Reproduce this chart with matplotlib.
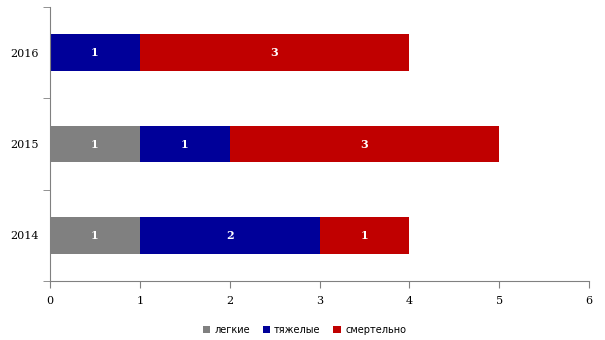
import numpy as np
import matplotlib.pyplot as plt

years = ['2014', '2015', '2016']
light = [1, 1, 0]
severe = [2, 1, 1]
fatal = [1, 3, 3]

series = [('легкие', light, '#808080'),
          ('тяжелые', severe, '#000099'),
          ('смертельно', fatal, '#c00000')]

fig = plt.figure(figsize=(6.05, 3.4), dpi=100)
ax = fig.add_axes([50 / 605, 1 - 281 / 340, 539 / 605, 274 / 340])

y = np.arange(len(years))
left = np.zeros(len(years))
for name, vals, color in series:
    vals = np.array(vals, dtype=float)
    bars = ax.barh(y, vals, left=left, height=0.4, color=color, label=name)
    for b, v in zip(bars, vals):
        if v > 0:
            ax.text(b.get_x() + b.get_width() / 2, b.get_y() + b.get_height() / 2,
                    f'{int(v)}', ha='center', va='center', color='white',
                    fontsize=8, fontweight='bold', family='DejaVu Serif')
    left += vals

ax.set_xlim(0, 6)
ax.set_ylim(-0.5, 2.5)
ax.set_xticks(range(7))
ax.set_xticklabels([str(i) for i in range(7)], family='DejaVu Serif', fontsize=8)
ax.set_yticks(y)
ax.set_yticklabels(years, family='DejaVu Serif', fontsize=8)
ax.tick_params(axis='y', length=0, pad=8)
ax.set_yticks([-0.5, 0.5, 1.5, 2.5], minor=True)
ax.tick_params(axis='y', which='minor', length=5, color='#808080')
ax.tick_params(axis='x', length=5, color='#808080', pad=6)

for s in ['top', 'right']:
    ax.spines[s].set_visible(False)
for s in ['left', 'bottom']:
    ax.spines[s].set_color('#808080')

fig.legend(loc='lower center', bbox_to_anchor=(0.503, -0.01), ncol=3, frameon=False,
           fontsize=7, handlelength=0.8, handleheight=0.8, handletextpad=0.4,
           columnspacing=1.3)

fig.savefig('out.png', dpi=100)
